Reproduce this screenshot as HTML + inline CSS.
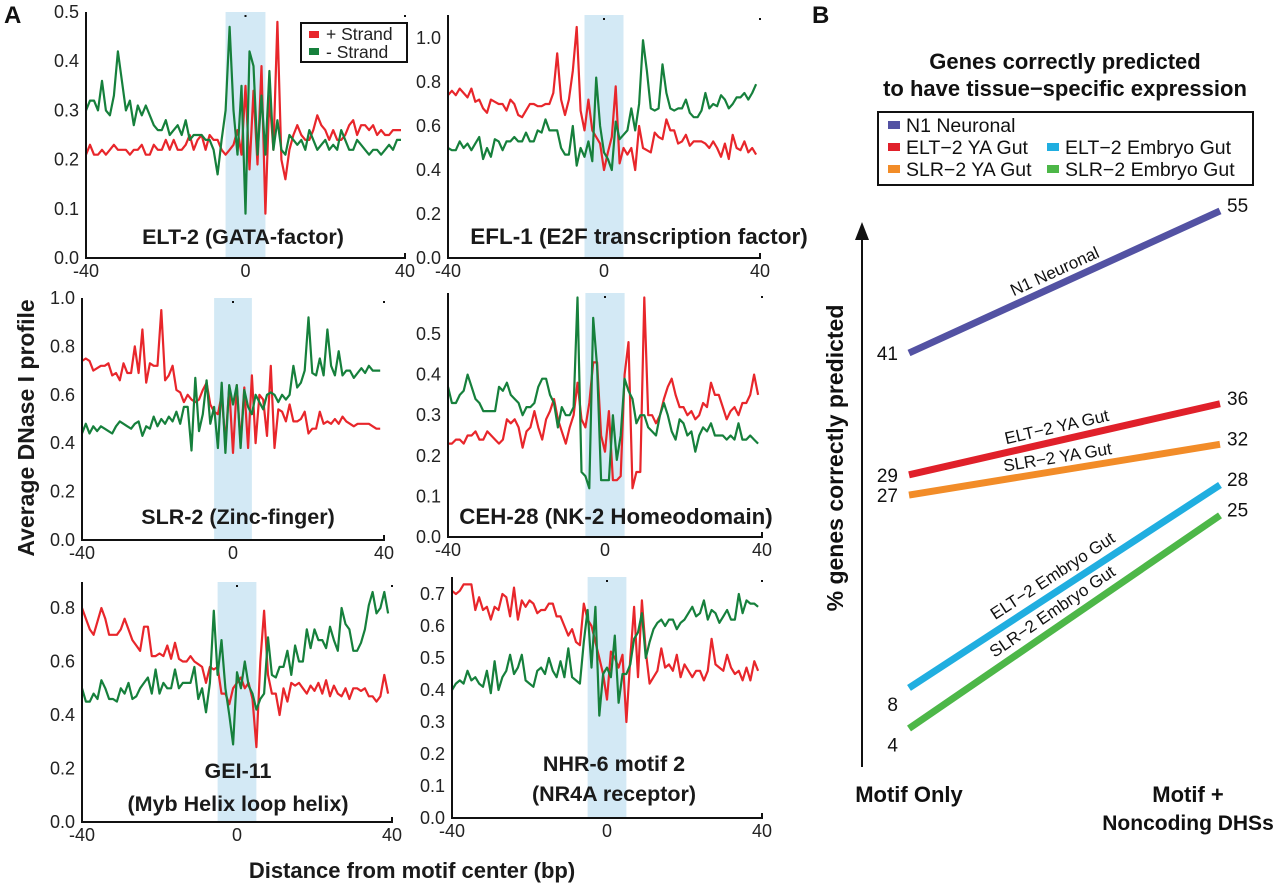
<!DOCTYPE html>
<html><head><meta charset="utf-8">
<style>
html,body{margin:0;padding:0;background:#fff;}
svg{display:block;font-family:"Liberation Sans",Arial,sans-serif;}
</style></head>
<body>
<svg id="fig" width="1280" height="886" viewBox="0 0 1280 886" xmlns="http://www.w3.org/2000/svg"></svg>
<script>
// ---------- Panel A data (x = -40..39, step 1) ----------
const xStart = -40;
const elt2Plus = [.21,.23,.21,.21,.22,.21,.22,.23,.22,.22, .22,.21,.22,.22,.23,.21,.21,.23,.22,.22, .24,.22,.24,.22,.22,.23,.25,.22,.24,.25, .22,.25,.24,.24,.22,.21,.22,.23,.26,.21, .35,.18,.34,.19,.39,.09,.33,.22,.48,.20, .16,.22,.25,.27,.25,.24,.24,.26,.29,.27, .26,.24,.26,.24,.24,.25,.27,.28,.25,.27, .27,.26,.27,.25,.26,.25,.25,.26,.26,.26];
const elt2Minus = [.30,.32,.32,.30,.36,.30,.29,.33,.42,.36, .30,.32,.27,.31,.29,.31,.29,.27,.26,.26, .28,.25,.26,.27,.25,.28,.24,.25,.25,.25, .24,.24,.22,.17,.24,.30,.47,.30,.21,.35, .09,.42,.39,.21,.33,.21,.38,.22,.28,.22, .21,.25,.24,.23,.24,.22,.26,.24,.22,.23, .24,.22,.23,.22,.26,.24,.22,.22,.24,.23, .22,.21,.22,.22,.21,.22,.23,.22,.24,.24];
const efl1Plus = [.74,.76,.74,.77,.75,.73,.77,.71,.72,.68, .66,.72,.71,.70,.70,.67,.72,.70,.65,.64, .67,.70,.70,.69,.69,.70,.70,.75,.93,.72, .65,.72,.85,1.05,.67,.58,.72,.58,.55,.52, .40,.48,.55,.78,.43,.50,.47,.50,.40,.60, .50,.49,.48,.57,.55,.54,.63,.58,.58,.52, .53,.56,.51,.53,.53,.53,.52,.50,.53,.50, .46,.52,.45,.56,.50,.49,.53,.48,.50,.47];
const efl1Minus = [.50,.49,.49,.53,.50,.52,.49,.52,.55,.45, .50,.46,.54,.53,.49,.53,.53,.55,.53,.53, .57,.53,.53,.58,.57,.63,.58,.58,.58,.50, .47,.47,.60,.42,.50,.46,.53,.44,.82,.60, .48,.45,.40,.62,.54,.56,.58,.68,.58,.70, .99,.85,.68,.67,.68,.88,.75,.68,.67,.68, .68,.72,.66,.64,.64,.67,.75,.68,.70,.69, .74,.72,.68,.70,.73,.73,.75,.72,.75,.79];
const slr2Plus = [.74,.75,.74,.70,.71,.72,.72,.73,.68,.69, .66,.73,.69,.69,.80,.69,.87,.65,.73,.72, .72,.95,.66,.68,.72,.62,.61,.57,.60,.58, .57,.58,.62,.65,.56,.53,.52,.60,.40,.63, .36,.64,.40,.63,.38,.68,.40,.60,.58,.43, .72,.38,.54,.53,.49,.56,.49,.49,.50,.53, .44,.46,.46,.53,.48,.49,.48,.50,.48,.51, .49,.48,.47,.48,.48,.48,.48,.47,.46,.46];
const slr2Minus = [.44,.48,.44,.47,.45,.47,.46,.45,.44,.47, .49,.48,.47,.46,.48,.49,.43,.47,.46,.51, .47,.50,.48,.51,.49,.53,.48,.55,.55,.37, .67,.45,.52,.66,.48,.55,.38,.65,.36,.64, .56,.64,.38,.62,.55,.52,.60,.57,.54,.60, .61,.60,.57,.60,.58,.60,.72,.63,.65,.70, .92,.69,.68,.75,.68,.87,.72,.68,.78,.68, .70,.70,.67,.69,.71,.69,.72,.70,.70,.70];
const ceh28Plus = [.23,.23,.24,.24,.23,.25,.25,.26,.24,.24, .26,.25,.24,.23,.24,.29,.28,.29,.27,.22, .26,.27,.31,.27,.24,.29,.31,.34,.29,.26, .23,.27,.30,.38,.29,.27,.33,.43,.43,.25, .21,.31,.14,.14,.15,.40,.48,.12,.16,.16, .59,.30,.30,.28,.30,.34,.37,.39,.35,.32, .32,.30,.31,.29,.30,.33,.32,.38,.35,.35, .32,.29,.31,.32,.30,.33,.33,.35,.40,.35];
const ceh28Minus = [.37,.33,.33,.35,.36,.40,.37,.34,.33,.31, .31,.31,.31,.37,.36,.38,.35,.34,.33,.30, .32,.32,.33,.37,.39,.39,.35,.33,.27,.32, .30,.30,.32,.59,.16,.15,.12,.54,.42,.14, .14,.14,.30,.19,.25,.39,.36,.34,.28,.30, .30,.27,.26,.25,.30,.33,.30,.26,.24,.29, .28,.25,.26,.21,.25,.27,.26,.28,.25,.25, .25,.24,.25,.24,.28,.24,.24,.25,.24,.23];
const gei11Plus = [.80,.76,.72,.70,.75,.80,.76,.70,.70,.70, .72,.76,.72,.68,.66,.64,.73,.73,.62,.62, .63,.62,.66,.61,.67,.61,.60,.60,.62,.60, .59,.58,.52,.58,.57,.58,.48,.48,.44,.50, .52,.54,.50,.52,.46,.28,.60,.79,.55,.48, .48,.40,.50,.45,.52,.51,.52,.50,.48,.51, .49,.52,.48,.53,.47,.51,.48,.47,.50,.46, .50,.50,.49,.50,.47,.47,.45,.47,.55,.48];
const gei11Minus = [.50,.45,.45,.48,.46,.53,.50,.46,.46,.45, .50,.48,.52,.46,.47,.50,.52,.54,.48,.57, .48,.52,.50,.50,.57,.50,.52,.52,.52,.58, .46,.50,.41,.52,.79,.55,.68,.50,.40,.29, .56,.50,.60,.51,.48,.42,.46,.48,.69,.55, .54,.58,.58,.64,.55,.66,.60,.60,.72,.65, .72,.68,.68,.65,.73,.68,.64,.80,.74,.72, .64,.64,.67,.72,.81,.86,.78,.80,.86,.78];
const nhr6Plus = [.71,.70,.71,.73,.73,.73,.65,.69,.65,.66, .62,.66,.65,.70,.69,.63,.72,.62,.68,.66, .68,.67,.64,.65,.65,.67,.67,.63,.63,.60, .57,.59,.55,.54,.67,.62,.60,.55,.50,.45, .37,.52,.50,.47,.51,.30,.50,.66,.44,.68, .52,.42,.44,.46,.53,.47,.48,.46,.51,.44, .48,.46,.44,.46,.46,.43,.46,.56,.48,.47, .46,.51,.47,.45,.46,.43,.47,.43,.49,.46];
const nhr6Minus = [.40,.42,.43,.42,.46,.43,.44,.42,.41,.46, .39,.49,.40,.44,.46,.51,.45,.47,.51,.43, .42,.41,.46,.47,.45,.50,.46,.44,.49,.44, .53,.44,.43,.42,.55,.65,.47,.66,.32,.45, .47,.44,.57,.36,.45,.45,.48,.56,.58,.64, .50,.55,.59,.61,.62,.60,.62,.62,.59,.61, .62,.64,.66,.63,.64,.68,.62,.65,.64,.61, .63,.65,.62,.62,.70,.64,.68,.67,.67,.66];
const xTicks = [-40, 0, 40];
const ticks1 = ["0.0","0.1","0.2","0.3","0.4","0.5"];
const ticks2 = ["0.0","0.2","0.4","0.6","0.8","1.0"];
const ticks3 = ["0.0","0.2","0.4","0.6","0.8","1.0"];
const ticks4 = ["0.0","0.1","0.2","0.3","0.4","0.5"];
const ticks5 = ["0.0","0.2","0.4","0.6","0.8"];
const ticks6 = ["0.0","0.1","0.2","0.3","0.4","0.5","0.6","0.7"];

// ---------- Panel B data ----------
const bCategories = ["Motif Only", "Motif + Noncoding DHSs"];
const bSeriesNames = ["N1 Neuronal","ELT\u22122 YA Gut","SLR\u22122 YA Gut","ELT\u22122 Embryo Gut","SLR\u22122 Embryo Gut"];
const bMotifOnly = [41, 29, 27, 8, 4];
const bWithDHS = [55, 36, 32, 28, 25];

const NS = "http://www.w3.org/2000/svg";
const svg = document.getElementById("fig");
function mk(tag, attrs, parent) {
  const e = document.createElementNS(NS, tag);
  for (const k in attrs) e.setAttribute(k, attrs[k]);
  (parent || svg).appendChild(e);
  return e;
}
function txt(s, attrs, parent) { const t = mk("text", attrs, parent); t.textContent = s; return t; }

const RED = "#e8262b", GREEN = "#16803c", BAND = "#d3e9f5";

const panels = [
  {name:"elt-2", x0:86, x1:405, y0:258, yTop:12, vTop:0.5, yTopVal:12, ticks:ticks1, plus:elt2Plus, minus:elt2Minus, title:["ELT-2 (GATA-factor)"], ty:[244], tx:243, fs:21.5, legend:true},
  {name:"efl-1", x0:448, x1:760, y0:258, yTop:15, vTop:1.0, yTopVal:38, ticks:ticks2, plus:efl1Plus, minus:efl1Minus, title:["EFL-1 (E2F transcription factor)"], ty:[244], tx:639, fs:22.5},
  {name:"slr-2", x0:82, x1:384, y0:540, yTop:298, vTop:1.0, yTopVal:298, ticks:ticks3, plus:slr2Plus, minus:slr2Minus, title:["SLR-2 (Zinc-finger)"], ty:[524], tx:238, fs:21.5},
  {name:"ceh-28", x0:448, x1:762, y0:537, yTop:293, vTop:0.5, yTopVal:334, ticks:ticks4, plus:ceh28Plus, minus:ceh28Minus, title:["CEH-28 (NK-2 Homeodomain)"], ty:[524], tx:616, fs:22.3},
  {name:"gei-11", x0:82, x1:392, y0:822, yTop:582, vTop:0.8, yTopVal:608, ticks:ticks5, plus:gei11Plus, minus:gei11Minus, title:["GEI-11","(Myb Helix loop helix)"], ty:[778,811], tx:238, fs:21.5},
  {name:"nhr-6", x0:452, x1:762, y0:818, yTop:577, vTop:0.7, yTopVal:594, ticks:ticks6, plus:nhr6Plus, minus:nhr6Minus, title:["NHR-6 motif 2","(NR4A receptor)"], ty:[771,801], tx:614, fs:21.5}
];

panels.forEach(p => {
  const g = mk("g", {});
  
  
  const sx = v => p.x0 + (v + 40) / 80 * (p.x1 - p.x0);
  const sy = v => p.y0 - v / p.vTop * (p.y0 - p.yTopVal);
  const band = mk("rect", {x: sx(-5), y: p.yTop, width: sx(5) - sx(-5), height: p.y0 - p.yTop, fill: BAND}, g);
  
  
  p.title.forEach((t, i) => {
    const tt = txt(t, {x: p.tx, y: p.ty[i], "text-anchor": "middle", "font-size": String(p.fs), "font-weight": "bold", fill: "#1a1a1a"}, g);
    
    
  });
  [[p.plus, RED, "plus-strand-line"], [p.minus, GREEN, "minus-strand-line"]].forEach(([arr, col, nm]) => {
    const pts = arr.map((v, i) => sx(xStart + i).toFixed(1) + "," + sy(v).toFixed(1)).join(" ");
    const pl = mk("polyline", {points: pts, fill: "none", stroke: col, "stroke-width": "2.2", "stroke-linejoin": "round"}, g);
    
    
  });
  const ax = mk("path", {d: `M${p.x0},${p.yTop} V${p.y0} H${p.x1} v-5`, fill: "none", stroke: "#111", "stroke-width": "2"}, g);
  
  
  mk("rect", {x: sx(0) - 1, y: p.yTop + 3, width: 2, height: 2, fill: "#111"}, g);
  mk("rect", {x: p.x1 - 1, y: p.yTop + 3, width: 2, height: 2, fill: "#111"}, g);
  p.ticks.forEach(t => {
    const tl = txt(t, {x: p.x0 - 7, y: sy(parseFloat(t)) + 6, "text-anchor": "end", "font-size": "18", fill: "#222"}, g);
    
    
  });
  xTicks.forEach(t => {
    const tl = txt(String(t), {x: sx(t), y: p.y0 + 19, "text-anchor": "middle", "font-size": "18", fill: "#222"}, g);
    
    
  });
  if (p.legend) {
    const lg = mk("g", {}, g);
    
    
    mk("rect", {x: 301, y: 23, width: 106, height: 39, fill: "#fff", stroke: "#111", "stroke-width": "2"}, lg);
    mk("rect", {x: 309, y: 31, width: 10, height: 7, fill: RED}, lg);
    txt("+ Strand", {x: 326, y: 40, "font-size": "17.5", fill: "#222"}, lg);
    mk("rect", {x: 309, y: 48, width: 10, height: 7, fill: GREEN}, lg);
    txt("- Strand", {x: 326, y: 58, "font-size": "17.5", fill: "#222"}, lg);
  }
});

let t;
t = txt("A", {x: 4, y: 23, "font-size": "24", "font-weight": "bold", fill: "#111"});
 
t = txt("B", {x: 812, y: 23, "font-size": "24", "font-weight": "bold", fill: "#111"});
 
t = txt("Average DNase I profile", {x: 0, y: 0, transform: "translate(34,428) rotate(-90)", "text-anchor": "middle", "font-size": "23", "font-weight": "bold", fill: "#1a1a1a"});
 
t = txt("Distance from motif center (bp)", {x: 412, y: 878, "text-anchor": "middle", "font-size": "22", "font-weight": "bold", fill: "#1a1a1a"});
 

// ---------- Panel B ----------
const bColors = ["#5352a3", "#e0202a", "#f28c28", "#20aee0", "#4db748"];
const bx0 = 909, bx1 = 1220;
const by = v => 353 + (41 - v) * 10.15;
const gb = mk("g", {});


t = txt("Genes correctly predicted", {x: 1065, y: 69, "text-anchor": "middle", "font-size": "22", "font-weight": "bold", fill: "#111"}, gb);
 
t = txt("to have tissue\u2212specific expression", {x: 1065, y: 96, "text-anchor": "middle", "font-size": "22", "font-weight": "bold", fill: "#111"}, gb);
 
const leg = mk("g", {}, gb);


mk("rect", {x: 878, y: 112, width: 375, height: 73, fill: "#fff", stroke: "#111", "stroke-width": "2"}, leg);
const legPos = [[888,125],[888,147],[888,169],[1047,147],[1047,169]];
bSeriesNames.forEach((n, i) => {
  const e = mk("g", {}, leg);
  
  
  mk("rect", {x: legPos[i][0], y: legPos[i][1] - 4, width: 12, height: 8, fill: bColors[i]}, e);
  txt(n, {x: legPos[i][0] + 18, y: legPos[i][1] + 7, "font-size": "19.5", fill: "#111"}, e);
});
mk("line", {x1: 862, y1: 232, x2: 862, y2: 767, stroke: "#111", "stroke-width": "2"}, gb);
mk("path", {d: "M862,222 L855,240 L869,240 Z", fill: "#111"}, gb);
t = txt("% genes correctly predicted", {x: 0, y: 0, transform: "translate(843,458) rotate(-90)", "text-anchor": "middle", "font-size": "23", "font-weight": "bold", fill: "#111"}, gb);
 
t = txt("Motif Only", {x: 909, y: 802, "text-anchor": "middle", "font-size": "22", "font-weight": "bold", fill: "#111"}, gb);
 
t = txt("Motif +", {x: 1188, y: 802, "text-anchor": "middle", "font-size": "22", "font-weight": "bold", fill: "#111"}, gb);
 
t = txt("Noncoding DHSs", {x: 1188, y: 830, "text-anchor": "middle", "font-size": "21", "font-weight": "bold", fill: "#111"}, gb);
 
const labelOffsets = [-6, -7, -7, -7, -7];
bSeriesNames.forEach((n, i) => {
  const y0 = by(bMotifOnly[i]), y1 = by(bWithDHS[i]);
  const ln = mk("line", {x1: bx0, y1: y0, x2: bx1, y2: y1, stroke: bColors[i], "stroke-width": "7"}, gb);
  
  
  const ang = Math.atan2(y1 - y0, bx1 - bx0) * 180 / Math.PI;
  const mx = (bx0 + bx1) / 2 - 5, my = (y0 + y1) / 2;
  const lt = txt(n, {x: 0, y: 0, transform: `translate(${mx},${my}) rotate(${ang}) translate(0,${labelOffsets[i]})`, "text-anchor": "middle", "font-size": "17", fill: "#111"}, gb);
  
  
  const lv = txt(String(bMotifOnly[i]), {x: 898, y: by(bMotifOnly[i]) + (i >= 3 ? 23 : 7), "text-anchor": "end", "font-size": "19", fill: "#111"}, gb);
  
  
  const rv = txt(String(bWithDHS[i]), {x: 1227, y: by(bWithDHS[i]) + 1, "font-size": "19", fill: "#111"}, gb);
  
  
});
</script>
</body></html>
